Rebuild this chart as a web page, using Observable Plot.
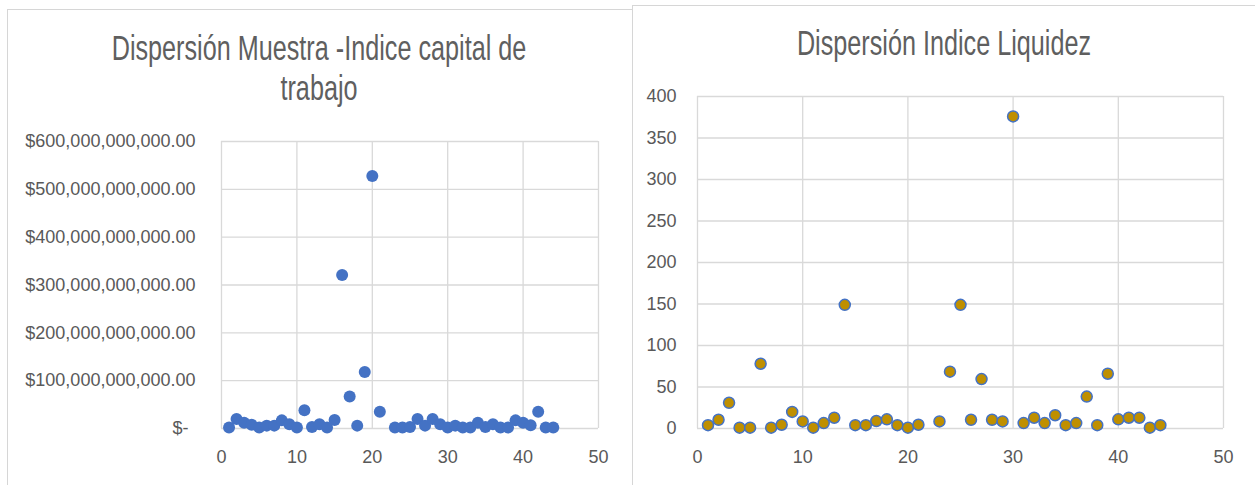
<!DOCTYPE html>
<html><head><meta charset="utf-8">
<script src="https://cdn.jsdelivr.net/npm/d3@7"></script>
<script src="https://cdn.jsdelivr.net/npm/@observablehq/plot@0.6"></script>
<style>
html,body{margin:0;padding:0;background:#fff;width:1255px;height:485px;overflow:hidden;font-family:"Liberation Sans",Arial,sans-serif}
.card{position:absolute;border:1px solid #d6d6d6;box-sizing:border-box;background:#fff}
.title{position:absolute;color:#5f5f5f;font-size:35px;line-height:40px;white-space:nowrap;text-align:center;transform:scaleX(0.72);transform-origin:center top}
.chart{position:absolute}
.chart svg{overflow:visible}
</style></head><body>
<div class="card" style="left:7px;top:9px;width:626px;height:500px"></div>
<div class="card" style="left:632px;top:5px;width:640px;height:500px"></div>
<div class="title" id="t1" style="left:0px;top:28px;width:638px"></div>
<div class="title" id="t2" style="left:632px;top:23px;width:624px"></div>
<div class="chart" id="c1" style="left:0px;top:110px"></div>
<div class="chart" id="c2" style="left:632px;top:60px"></div>
<script>
// ---- data ----
const titleCap = ["Dispersión Muestra -Indice capital de", "trabajo"];
const titleLiq = "Dispersión Indice Liquidez";

const xTicks = [0, 10, 20, 30, 40, 50];

// Capital de trabajo (muestra)
const capX = [1,2,3,4,5,6,7,8,9,10,11,12,13,14,15,16,17,18,19,20,21,23,24,25,26,27,28,29,30,31,32,33,34,35,36,37,38,39,40,41,42,43,44];
const capY = [2e9,20e9,12e9,8e9,2e9,6e9,6e9,17e9,9e9,2e9,38e9,3e9,9e9,2e9,18e9,321e9,67e9,6e9,118e9,528e9,35e9,2e9,2e9,3e9,20e9,6e9,20e9,9e9,2e9,6e9,2e9,2e9,12e9,3e9,9e9,2e9,2e9,17e9,12e9,7e9,35e9,2e9,2e9];
const capYTicks = [0, 1e11, 2e11, 3e11, 4e11, 5e11, 6e11];

// Indice de liquidez
const liqX = [1,2,3,4,5,6,7,8,9,10,11,12,13,14,15,16,17,18,19,20,21,23,24,25,26,27,28,29,30,31,32,33,34,35,36,37,38,39,40,41,42,43,44];
const liqY = [4,10.5,31,1,1,78,1,4.5,20,8.5,1,6.5,13,149,4,4,9,11,4,1,4.5,8.5,68.5,149,10.5,59.5,10.5,8.5,376,6.5,13,6.5,16,4,6.5,38.5,4,66,11,13,13,1,4];
const liqYTicks = [0, 50, 100, 150, 200, 250, 300, 350, 400];

// ---- build ----
document.getElementById("t1").innerHTML = titleCap.join("<br>");
document.getElementById("t2").textContent = titleLiq;

const capData = capX.map((x, i) => ({x, y: capY[i]}));
const liqData = liqX.map((x, i) => ({x, y: liqY[i]}));

const grid = "#d9d9d9";
const txt = "#595959";
const font = '"Liberation Sans", Arial, sans-serif';
const fs = 18;
const money = d3.format(",.2f");

const c1 = Plot.plot({
  width: 632, height: 375,
  marginLeft: 221, marginRight: 34, marginTop: 31, marginBottom: 57,
  style: {background: "transparent", fontFamily: font, fontSize: fs + "px", color: txt},
  x: {domain: [0, 50]},
  y: {domain: [0, 6e11]},
  marks: [
    Plot.gridX(xTicks, {stroke: grid, strokeOpacity: 1, strokeWidth: 1.3}),
    Plot.gridY(capYTicks, {stroke: grid, strokeOpacity: 1, strokeWidth: 1.3}),
    Plot.axisX(xTicks, {tickSize: 0, tickPadding: 22, fill: txt, fontSize: fs, label: null, tickFormat: d => String(d)}),
    Plot.axisY(capYTicks.slice(1), {tickSize: 0, tickPadding: 26, fill: txt, fontSize: fs, label: null, tickFormat: d => "$" + money(d)}),
    Plot.axisY([0], {tickSize: 0, tickPadding: 33, fill: txt, fontSize: fs, label: null, tickFormat: () => "$-"}),
    Plot.dot(capData, {x: "x", y: "y", r: 6, fill: "#4472C4", stroke: "none"})
  ]
});
document.getElementById("c1").appendChild(c1);

const c2 = Plot.plot({
  width: 623, height: 425,
  marginLeft: 65, marginRight: 32, marginTop: 36, marginBottom: 57,
  style: {background: "transparent", fontFamily: font, fontSize: fs + "px", color: txt},
  x: {domain: [0, 50]},
  y: {domain: [0, 400]},
  marks: [
    Plot.gridX(xTicks, {stroke: grid, strokeOpacity: 1, strokeWidth: 1.3}),
    Plot.gridY(liqYTicks, {stroke: grid, strokeOpacity: 1, strokeWidth: 1.3}),
    Plot.axisX(xTicks, {tickSize: 0, tickPadding: 22, fill: txt, fontSize: fs, label: null, tickFormat: d => String(d)}),
    Plot.axisY(liqYTicks, {tickSize: 0, tickPadding: 21, fill: txt, fontSize: fs, label: null, tickFormat: d => String(d)}),
    Plot.dot(liqData, {x: "x", y: "y", r: 5.5, fill: "#BF8F00", stroke: "#4472C4", strokeWidth: 1.5})
  ]
});
document.getElementById("c2").appendChild(c2);
</script>
</body></html>
